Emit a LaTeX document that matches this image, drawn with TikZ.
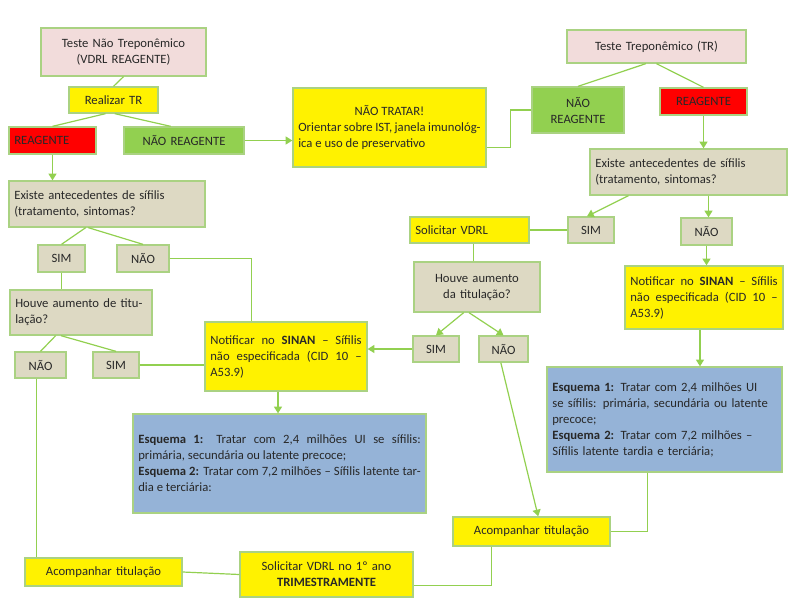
\documentclass[tikz,border=0pt]{standalone}
\usepackage{fontspec}
\setmainfont{Carlito}
\usetikzlibrary{arrows.meta}
\definecolor{lc}{RGB}{146,208,80}
\definecolor{bc}{RGB}{170,210,130}
\definecolor{pinkf}{RGB}{242,220,219}
\definecolor{beige}{RGB}{221,217,195}
\definecolor{blu}{RGB}{149,179,215}
\definecolor{grn}{RGB}{146,208,80}
\definecolor{txt}{RGB}{40,40,40}
\newcommand\bx[7]{%
\pgfmathsetmacro\bw{(#4-#2)*0.75}\pgfmathsetmacro\bh{(#5-#3)*0.75}\pgfmathsetmacro\tw{(#4-#2)*0.75-8}%
\node[box,#6,minimum width=\bw pt,minimum height=\bh pt,text width=\tw pt] (#1) at ({(#2+#4)/2},{(#3+#5)/2}) {#7};}
\begin{document}
\begin{tikzpicture}[x=0.75pt,y=-0.75pt,
 box/.style={draw=bc,line width=1pt,inner sep=4pt,align=center,font=\fontsize{9.5}{12}\selectfont,text=txt},
 pk/.style={fill=pinkf},ye/.style={fill=yellow},rd/.style={fill=red},gr/.style={fill=grn},be/.style={fill=beige},bl/.style={fill=blu},
 ln/.style={draw=lc,line width=0.9pt},
 ar/.style={ln,-{Triangle[length=5pt,width=6pt]}}]
\useasboundingbox (0,0) rectangle (789,603);
\bx{t1}{41}{28}{206}{76}{pk}{Teste Não Treponêmico\\(VDRL REAGENTE)}
\bx{rtr}{69}{87}{158}{113}{ye}{Realizar TR}
\bx{reL}{9}{127}{96}{154}{rd,align=left}{REAGENTE}
\bx{nrL}{124}{127}{244}{154}{gr}{NÃO REAGENTE}
\bx{ntr}{293}{88}{486}{167}{ye,align=justify}{\centering NÃO TRATAR!\par Orientar sobre IST, janela imunológica e uso de preservativo}
\bx{t2}{567}{30}{746}{63}{pk}{Teste Treponêmico (TR)}
\bx{nrR}{532}{87}{624}{133}{gr}{NÃO\\REAGENTE}
\bx{reR}{660}{88}{747}{115}{rd}{REAGENTE}
\bx{exR}{590}{149}{787}{195}{be,align=left}{Existe antecedentes de sífilis (tratamento, sintomas?}
\bx{exL}{9}{181}{205}{227}{be,align=left}{Existe antecedentes de sífilis (tratamento, sintomas?}
\bx{simL1}{38}{245}{85}{272}{be}{SIM}
\bx{naoL1}{117}{245}{169}{272}{be}{NÃO}
\bx{hoL}{10}{290}{152}{335}{be,align=left}{Houve aumento de titulação?}
\bx{naoL2}{15}{352}{66}{378}{be}{NÃO}
\bx{simL2}{93}{352}{139}{378}{be}{SIM}
\bx{notM}{205}{322}{367}{391}{ye,align=justify}{Notificar no \textbf{SINAN} – Sífilis não especificada (CID 10 – A53.9)}
\bx{simM}{413}{336}{459}{362}{be}{SIM}
\bx{naoM}{479}{336}{528}{362}{be}{NÃO}
\bx{hoM}{414}{262}{540}{312}{be}{Houve aumento\\da titulação?}
\bx{solV}{410}{217}{529}{243}{ye,align=left}{Solicitar VDRL}
\bx{simR}{568}{217}{614}{243}{be}{SIM}
\bx{naoR}{681}{218}{732}{245}{be}{NÃO}
\bx{notR}{625}{266}{783}{329}{ye,align=justify}{Notificar no \textbf{SINAN} – Sífilis não especificada (CID 10 – A53.9)}
\bx{esR}{547}{367}{782}{472}{bl,align=left}{\textbf{Esquema 1:} Tratar com 2,4 milhões UI se sífilis: primária, secundária ou latente precoce;\\\textbf{Esquema 2:} Tratar com 7,2 milhões – Sífilis latente tardia e terciária;}
\bx{esM}{133}{414}{426}{513}{bl,align=justify}{\textbf{Esquema 1:} Tratar com 2,4 milhões UI se sífilis: primária, secundária ou latente precoce;\par\textbf{Esquema 2:} Tratar com 7,2 milhões – Sífilis latente tardia e terciária:}
\bx{acR}{453}{517}{610}{546}{ye}{Acompanhar titulação}
\bx{acL}{25}{558}{182}{586}{ye}{Acompanhar titulação}
\bx{sol1}{240}{552}{413}{597}{ye}{Solicitar VDRL no 1º ano\\\textbf{TRIMESTRAMENTE}}
% connectors
\draw[ln] (t1.south) -- (rtr.north);
\draw[ln] ([xshift=-6pt]rtr.south) -- (reL.north);
\draw[ln] ([xshift=1pt]rtr.south) -- ([xshift=-10pt]nrL.north);
\draw[ar] (nrL.east) -- (ntr.west |- nrL.east);
\draw[ln] (nrR.west) -- ++(-21,0) |- ([yshift=-15pt]ntr.east);
\draw[ln] ([xshift=-8pt]t2.south) -- (nrR.north);
\draw[ln] ([xshift=0pt]t2.south) -- (reR.north);
\draw[ar] (reR.south) -- (reR.south |- exR.north);
\draw[ar] (reL.south) -- (reL.south |- exL.north);
\draw[ln] ([xshift=-16pt]exL.south) -- (simL1.north);
\draw[ln] ([xshift=-14pt]exL.south) -- (naoL1.north);
\draw[ln] (naoL1.east) -| ([xshift=-26pt]notM.north);
\draw[ln] (simL1.south) -- (simL1.south |- hoL.north);
\draw[ln] ([xshift=-19pt]hoL.south) -- (naoL2.north);
\draw[ln] ([xshift=-15pt]hoL.south) -- (simL2.north);
\draw[ln] (simL2.east) -- (notM.west |- simL2.east);
\draw[ln] ([xshift=-3pt]naoL2.south) -- ([xshift=-3pt]naoL2.south |- acL.north);
\draw[ar] ([xshift=-6pt]notM.south) -- ([xshift=-6pt]notM.south |- esM.north);
\draw[ar] (simM.west) -- (notM.east |- simM.west);
\draw[ar] ([xshift=-10pt]hoM.south) -- (simM.north);
\draw[ar] ([xshift=-6pt]hoM.south) -- (naoM.north);
\draw[ar] ([xshift=-2pt]naoM.south) -- ([xshift=5pt]acR.north);
\draw[ln] ([xshift=3pt]solV.south) -- ([xshift=3pt]solV.south |- hoM.north);
\draw[ln] (simR.west) -- (solV.east);
\draw[ar] ([xshift=-45pt]exR.south) -- ([xshift=-3pt]simR.north);
\draw[ar] ([xshift=15pt]exR.south) -- ([xshift=15pt]exR.south |- naoR.north);
\draw[ar] (naoR.south) -- (naoR.south |- notR.north);
\draw[ar] ([xshift=-3pt]notR.south) -- ([xshift=-3pt]notR.south |- esR.north);
\draw[ln] ([xshift=-13pt]esR.south) |- (acR.east);
\draw[ln] ([xshift=-30pt]acR.south) |- ([yshift=-8pt]sol1.east);
\draw[ln] (sol1.west) -- (acL.east);
\end{tikzpicture}
\end{document}
